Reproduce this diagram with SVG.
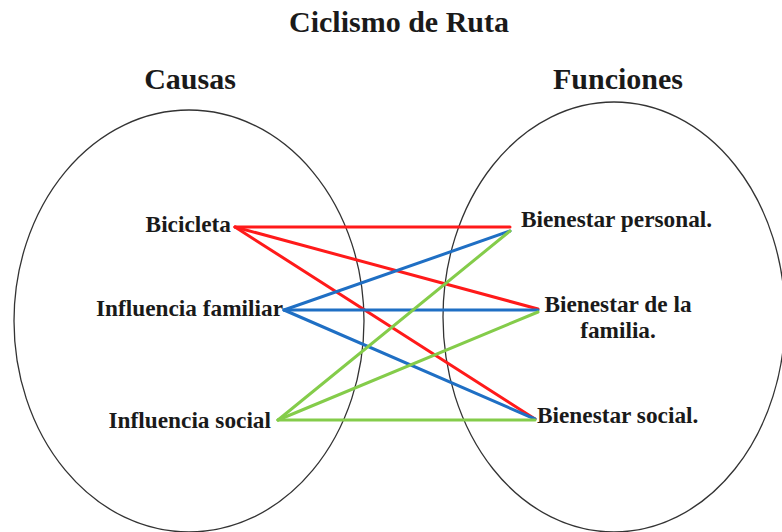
<svg xmlns="http://www.w3.org/2000/svg" width="782" height="532" viewBox="0 0 782 532">
<style>
text{font-family:"Liberation Serif","Times New Roman",serif;font-weight:bold;fill:#1a1a1a}
.h{font-size:30px;text-anchor:middle}
.n{font-size:23.3px}
.e{fill:none;stroke:#333;stroke-width:1.3}
.c{fill:none;stroke-width:3;stroke-linecap:round}
.r{stroke:#ff1a1a}.b{stroke:#1f6fc4}.g{stroke:#84cc4a}
</style>
<rect width="782" height="532" fill="#fff"/>
<text class="h" x="399" y="32">Ciclismo de Ruta</text>
<g id="causas">
<ellipse class="e" cx="189" cy="321" rx="175" ry="211"/>
<text class="h" x="190" y="89">Causas</text>
</g>
<g id="funciones">
<ellipse class="e" cx="614" cy="317" rx="171" ry="215"/>
<text class="h" x="618" y="89">Funciones</text>
</g>
<g id="connectors">
<line class="c r" x1="235" y1="227" x2="510" y2="227"/>
<line class="c r" x1="235" y1="227" x2="538" y2="309"/>
<line class="c r" x1="235" y1="227" x2="535" y2="419"/>
<line class="c b" x1="284" y1="310" x2="510" y2="231"/>
<line class="c b" x1="284" y1="310" x2="538" y2="310"/>
<line class="c b" x1="284" y1="310" x2="535" y2="419"/>
<line class="c g" x1="278" y1="420" x2="510" y2="231"/>
<line class="c g" x1="278" y1="420" x2="538" y2="312"/>
<line class="c g" x1="278" y1="420" x2="535" y2="420"/>
</g>
<g id="bicicleta"><text class="n" x="231" y="232" text-anchor="end">Bicicleta</text></g>
<g id="influencia-familiar"><text class="n" x="283" y="316" text-anchor="end">Influencia familiar</text></g>
<g id="influencia-social"><text class="n" x="271" y="428" text-anchor="end">Influencia social</text></g>
<g id="bienestar-personal"><text class="n" x="521" y="227">Bienestar personal.</text></g>
<g id="bienestar-familia"><text class="n" x="618" y="312" text-anchor="middle">Bienestar de la</text><text class="n" x="618" y="338" text-anchor="middle">familia.</text></g>
<g id="bienestar-social"><text class="n" x="537" y="423">Bienestar social.</text></g>
</svg>
